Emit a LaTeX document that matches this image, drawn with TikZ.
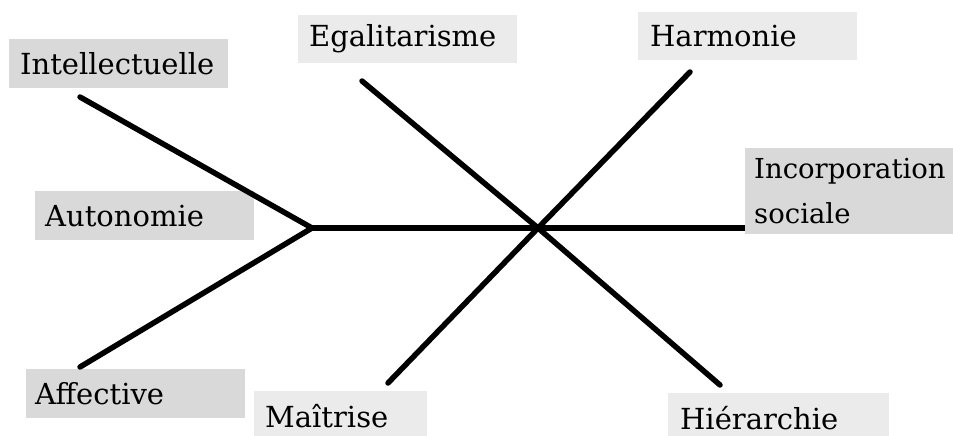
\documentclass[tikz,border=0pt]{standalone}
\usepackage{fontspec}
\setmainfont{DejaVu Serif}
\definecolor{boxdark}{HTML}{D9D9D9}
\definecolor{boxlight}{HTML}{EBEBEB}
\begin{document}
\begin{tikzpicture}[x=1pt,y=-1pt,
  lbl/.style={anchor=north west, inner xsep=#1, inner ysep=0pt, align=left,
    font=\fontsize{29}{45}\selectfont, text=black},
  bone/.style={line width=5.5pt, line cap=round}]
\clip (0,0) rectangle (953,436);
% boxes (text nodes)
\node[lbl=11pt, fill=boxdark, text width=197pt, minimum height=49pt] (intel) at (9,39) {Intellectuelle};
\node[lbl=11pt, fill=boxlight, text width=197pt, minimum height=48pt] (egal) at (298,15) {Egalitarisme};
\node[lbl=12pt, fill=boxlight, text width=195pt, minimum height=48pt] (harm) at (638,12) {Harmonie};
\node[lbl=9pt, fill=boxdark, text width=210pt, minimum height=86pt, font=\fontsize{27.5}{45}\selectfont] (incorp) at (745,148) {Incorporation\\sociale};
\node[lbl=10pt, fill=boxdark, text width=199pt, minimum height=49pt] (auto) at (35,191) {Autonomie};
\node[lbl=9pt, fill=boxdark, text width=201pt, minimum height=49pt] (affect) at (26,369) {Affective};
\node[lbl=11pt, fill=boxlight, text width=151pt, minimum height=49pt] (maitr) at (254,391) {Maîtrise};
\node[lbl=12pt, fill=boxlight, text width=197pt, minimum height=49pt] (hier) at (668,393) {Hiérarchie};
% connector end points
\coordinate (j) at (312,228);
\coordinate (x) at (538,228);
\coordinate (eI) at (80,97);
\coordinate (eA) at (80,367);
\coordinate (eS) at (745,228);
\coordinate (eE) at (362,81);
\coordinate (eH) at (720,385);
\coordinate (eR) at (690,72);
\coordinate (eM) at (388,383);
\draw[bone] (eI) -- (j) -- (eA);
\draw[line width=5.5pt] (j) -- (eS);
\draw[bone] (eE) -- (x) -- (eH);
\draw[bone] (eR) -- (x) -- (eM);
\end{tikzpicture}
\end{document}
